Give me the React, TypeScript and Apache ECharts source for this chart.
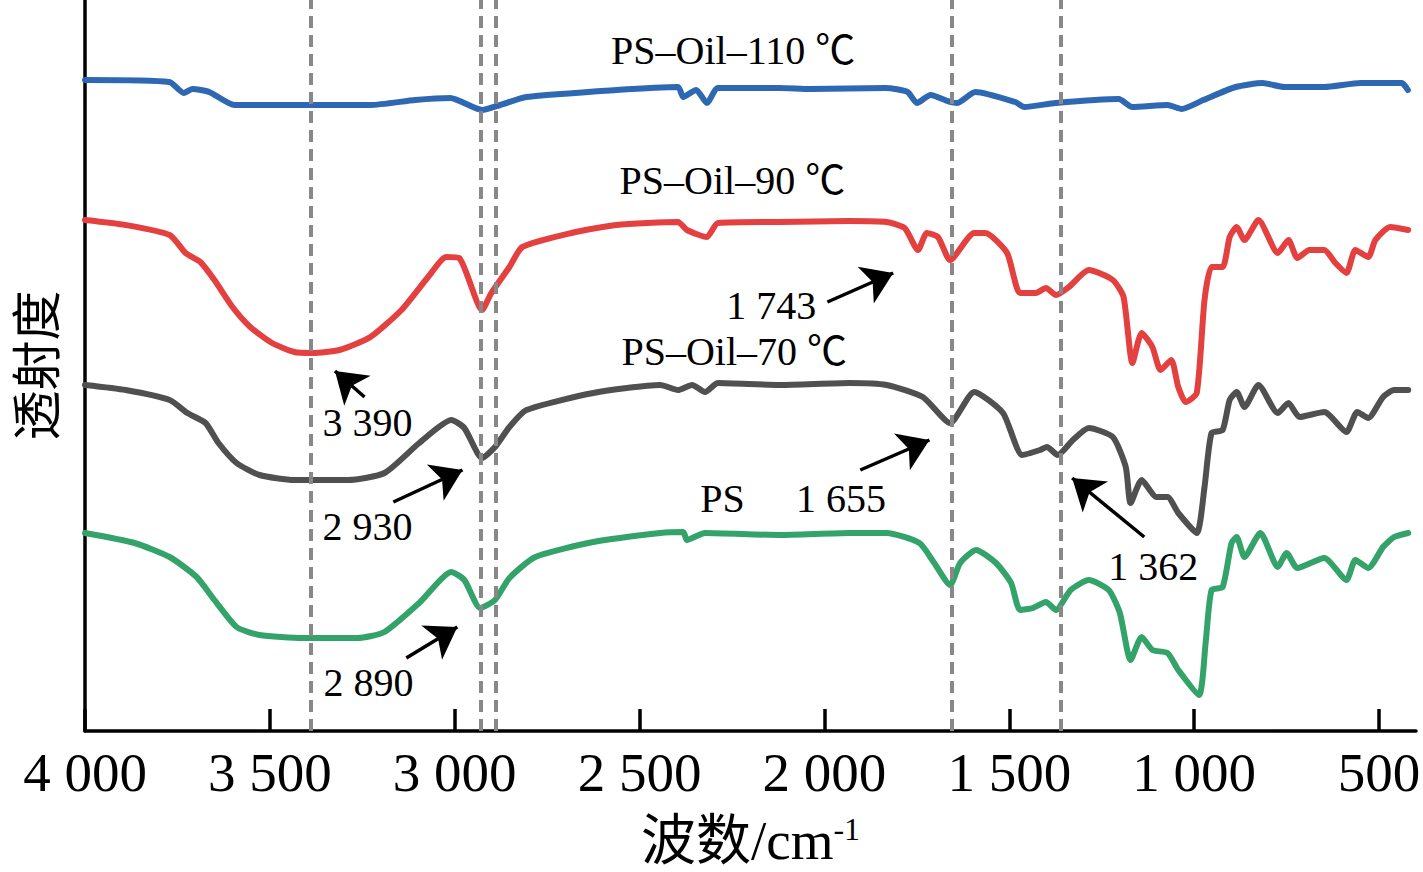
import React, { useEffect, useRef } from "react";
import * as echarts from "echarts";

// x: wavenumber (cm-1), y: transmittance (arbitrary units, offset per sample)
const wavenumberTicks = [4000, 3500, 3000, 2500, 2000, 1500, 1000, 500];

const psOil110: [number, number][] = [
  [4000, 651], [3772, 649], [3733, 638], [3710, 642], [3664, 639], [3596, 626],
  [3410, 626], [3228, 626], [3107, 631], [3012, 633], [2926, 621], [2877, 626],
  [2806, 634], [2563, 641], [2396, 644], [2382, 634], [2347, 641], [2318, 628],
  [2288, 643], [2121, 643], [2039, 642], [1834, 643], [1775, 639], [1750, 628],
  [1713, 636], [1660, 629], [1641, 628], [1592, 639], [1484, 629], [1459, 624],
  [1375, 628], [1204, 632], [1167, 624], [1072, 626], [1034, 622], [975, 631],
  [888, 644], [815, 648], [756, 644], [648, 644], [550, 648], [476, 648],
  [438, 648], [422, 641],
];

const psOil90: [number, number][] = [
  [4000, 511], [3890, 506], [3771, 496], [3728, 478], [3688, 469], [3650, 451],
  [3601, 424], [3553, 404], [3494, 388], [3434, 379], [3385, 378], [3312, 381],
  [3228, 394], [3144, 421], [3072, 454], [3023, 474], [2988, 473], [2926, 421],
  [2901, 438], [2852, 464], [2817, 484], [2684, 498], [2563, 506], [2396, 509],
  [2372, 501], [2318, 494], [2288, 508], [2121, 509], [1932, 510], [1832, 509],
  [1783, 503], [1747, 481], [1723, 498], [1693, 494], [1660, 471], [1595, 498],
  [1565, 498], [1506, 478], [1471, 438], [1428, 438], [1401, 443], [1374, 436],
  [1339, 444], [1285, 461], [1220, 451], [1191, 434], [1167, 368], [1142, 398],
  [1113, 384], [1091, 361], [1062, 371], [1043, 344], [1023, 329], [993, 338],
  [972, 431], [953, 464], [923, 464], [904, 494], [885, 504], [864, 491],
  [826, 511], [774, 478], [745, 491], [721, 473], [688, 481], [648, 481],
  [618, 468], [588, 458], [564, 481], [529, 474], [510, 491], [470, 504],
  [421, 501],
];

const psOil70: [number, number][] = [
  [4000, 346], [3890, 341], [3771, 331], [3723, 318], [3674, 308], [3639, 288],
  [3590, 268], [3528, 256], [3434, 251], [3288, 251], [3190, 258], [3096, 288],
  [3009, 311], [2974, 303], [2926, 273], [2891, 284], [2852, 304], [2806, 321],
  [2625, 338], [2444, 346], [2396, 341], [2358, 346], [2323, 339], [2288, 348],
  [2121, 346], [1932, 348], [1832, 346], [1734, 334], [1660, 308], [1595, 339],
  [1517, 318], [1465, 276], [1417, 281], [1398, 284], [1369, 276], [1328, 291],
  [1285, 303], [1220, 294], [1185, 264], [1172, 228], [1142, 251], [1102, 234],
  [1072, 234], [1043, 218], [993, 198], [972, 244], [953, 298], [923, 301],
  [904, 331], [885, 339], [864, 324], [826, 346], [774, 318], [745, 328],
  [715, 314], [648, 319], [588, 299], [559, 319], [529, 313], [489, 334],
  [459, 341], [421, 341],
];

const ps: [number, number][] = [
  [4000, 198], [3866, 188], [3771, 174], [3698, 154], [3650, 131], [3590, 104],
  [3528, 96], [3410, 93], [3263, 93], [3190, 99], [3096, 128], [3009, 159],
  [2974, 151], [2931, 123], [2891, 131], [2852, 153], [2782, 174], [2625, 189],
  [2444, 198], [2382, 199], [2372, 191], [2323, 198], [2121, 196], [1932, 198],
  [1832, 198], [1743, 188], [1703, 168], [1660, 146], [1633, 168], [1590, 181],
  [1536, 168], [1495, 148], [1471, 121], [1436, 123], [1401, 129], [1374, 121],
  [1334, 141], [1285, 151], [1231, 141], [1201, 118], [1172, 71], [1142, 94],
  [1113, 81], [1072, 78], [1043, 61], [987, 36], [969, 88], [953, 141],
  [923, 144], [899, 188], [885, 194], [864, 174], [821, 198], [774, 164],
  [750, 178], [721, 163], [648, 173], [588, 151], [564, 171], [529, 163],
  [489, 184], [459, 194], [421, 198],
];

const guideWavenumbers = [3390, 2930, 2890, 1655, 1362];

const curveLabels: { name: string; coord: [number, number] }[] = [
  { name: "PS–Oil–110 ℃", coord: [2247, 681] },
  { name: "PS–Oil–90 ℃", coord: [2249, 551] },
  { name: "PS–Oil–70 ℃", coord: [2244, 380] },
  { name: "PS", coord: [2276, 233] },
];

const peakLabels: { name: string; coord: [number, number] }[] = [
  { name: "1 743", coord: [2144, 426] },
  { name: "3 390", coord: [3236, 309] },
  { name: "2 930", coord: [3236, 205] },
  { name: "1 655", coord: [1955, 233] },
  { name: "1 362", coord: [1111, 165] },
  { name: "2 890", coord: [3233, 49] },
];

const peakArrows: { from: [number, number]; to: [number, number] }[] = [
  { from: [1992, 429], to: [1814, 458] },
  { from: [3244, 334], to: [3324, 360] },
  { from: [3166, 229], to: [2979, 261] },
  { from: [1903, 261], to: [1716, 291] },
  { from: [1135, 194], to: [1330, 253] },
  { from: [3131, 73], to: [2993, 104] },
];

const SERIF = "'Liberation Serif', 'Noto Sans CJK SC', serif";
const CJK = "'Noto Sans CJK SC', sans-serif";

const fmtWavenumber = (v: number) =>
  v >= 1000 ? `${Math.floor(v / 1000)} ${String(v % 1000).padStart(3, "0")}` : String(v);

export default function App() {
  const ref = useRef<HTMLDivElement>(null);

  useEffect(() => {
    if (!ref.current) return;
    const chart = echarts.init(ref.current, undefined, { renderer: "svg" });

    const line = (name: string, data: [number, number][], color: string, extra: any = {}) => ({
      type: "line",
      name,
      data,
      showSymbol: false,
      symbol: "none",
      smooth: 0.2,
      lineStyle: { color, width: 6, join: "round", cap: "round" },
      itemStyle: { color },
      z: 2,
      ...extra,
    });

    chart.setOption({
      animation: false,
      backgroundColor: "#ffffff",
      grid: {
        left: 85,
        right: 7,
        top: 0,
        bottom: 141,
        containLabel: false,
        outerBoundsMode: "none",
      },
      xAxis: {
        type: "value",
        min: 400,
        max: 4000,
        inverse: true,
        name: "{a|波数/cm}{s|-1}",
        nameLocation: "middle",
        nameGap: 82,
        nameTextStyle: {
          rich: {
            a: { fontSize: 55, fontFamily: SERIF, color: "#000" },
            s: { fontSize: 32, fontFamily: SERIF, color: "#000", verticalAlign: "top" },
          },
        },
        axisLine: { show: true, lineStyle: { color: "#000", width: 3.5 } },
        axisTick: {
          show: true,
          inside: true,
          length: 22,
          customValues: wavenumberTicks,
          lineStyle: { color: "#000", width: 3.5 },
        },
        axisLabel: {
          show: true,
          customValues: wavenumberTicks,
          formatter: (v: number) => fmtWavenumber(v),
          fontSize: 55,
          fontFamily: SERIF,
          color: "#000",
          margin: 14,
        },
        splitLine: { show: false },
      },
      yAxis: {
        type: "value",
        min: 0,
        max: 731,
        name: "透射度",
        nameLocation: "middle",
        nameGap: 27,
        nameRotate: 90,
        nameTextStyle: { fontSize: 50, fontFamily: CJK, color: "#000" },
        axisLine: { show: true, lineStyle: { color: "#000", width: 3.5 } },
        axisTick: { show: false },
        axisLabel: { show: false },
        splitLine: { show: false },
      },
      series: [
        line("PS-Oil-110", psOil110, "#2e68b2"),
        line("PS-Oil-90", psOil90, "#e3403f", {
          markPoint: {
            silent: true,
            symbol: "rect",
            symbolSize: 1,
            itemStyle: { color: "rgba(0,0,0,0)" },
            label: {
              show: true,
              position: "inside",
              formatter: "{b}",
              color: "#000",
              fontSize: 40,
              fontFamily: SERIF,
            },
            data: [...curveLabels, ...peakLabels].map((l) => ({ name: l.name, coord: l.coord })),
          },
        }),
        line("PS-Oil-70", psOil70, "#505050", {
          markLine: {
            silent: true,
            symbol: ["none", "arrow"],
            symbolSize: 30,
            label: { show: false },
            lineStyle: { color: "#000", width: 3.5, type: "solid" },
            data: peakArrows.map((a) => [{ coord: a.from }, { coord: a.to }]),
          },
        }),
        line("PS", ps, "#34a36a", {
          markLine: {
            silent: true,
            symbol: ["none", "none"],
            label: { show: false },
            lineStyle: { color: "#888888", width: 4, type: [12, 7] },
            data: guideWavenumbers.map((w) => ({ xAxis: w })),
          },
        }),
      ],
    });

    return () => chart.dispose();
  }, []);

  return (
    <div
      ref={ref}
      style={{ position: "fixed", left: 0, top: 0, width: 1423, height: 872, background: "#fff" }}
    />
  );
}
